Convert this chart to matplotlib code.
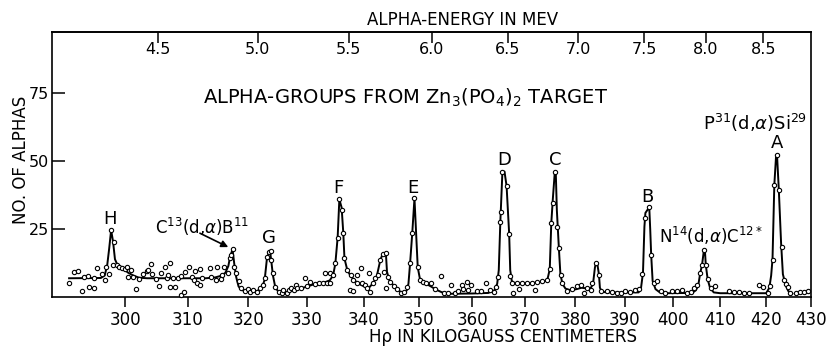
#!/usr/bin/env python3
"""Alpha-groups from a Zn3(PO4)2 target: counts vs H-rho, with alpha energy on top."""

import numpy as np
import matplotlib.pyplot as plt
from matplotlib.ticker import NullLocator

# measured counts (open circles), H-rho in kilogauss cm
h_rho = [
    291.3, 292.0, 292.7, 293.3, 293.6, 294.2, 294.4, 295.1, 295.2, 295.6,
    296.3, 296.8, 297.0, 297.4, 297.8, 298.1, 298.2, 298.7, 299.0, 299.5,
    300.0, 300.3, 300.4, 300.9, 301.3, 301.7, 302.2, 302.9, 303.4, 303.7,
    304.1, 304.2, 304.9, 305.3, 305.7, 306.3, 306.6, 306.8, 307.1, 307.2,
    307.7, 308.0, 308.5, 308.9, 309.0, 309.4, 309.5, 310.2, 310.7, 311.1,
    311.2, 311.6, 312.0, 312.1, 312.4, 313.6, 313.8, 314.7, 314.9, 315.5,
    315.7, 316.0, 316.6, 316.9, 317.2, 317.4, 317.7, 318.0, 318.4, 318.8,
    319.4, 319.9, 320.4, 320.9, 321.5, 322.0, 322.5, 322.9, 323.2, 323.5,
    323.8, 323.9, 324.2, 324.6, 325.2, 325.7, 326.0, 326.6, 327.0, 327.3,
    327.8, 328.1, 328.4, 329.0, 329.7, 330.1, 330.6, 331.5, 332.2, 332.8,
    333.2, 333.5, 334.0, 334.1, 334.6, 335.0, 335.5, 335.7, 336.2, 336.4,
    336.6, 337.1, 337.5, 337.8, 338.1, 338.2, 338.8, 338.9, 339.5, 339.8,
    340.2, 340.6, 341.0, 341.1, 341.6, 342.0, 342.6, 343.0, 343.4, 343.7,
    344.0, 344.1, 344.3, 344.8, 345.4, 346.0, 346.8, 347.2, 347.8, 348.4,
    348.8, 349.2, 349.8, 350.2, 350.8, 351.4, 352.2, 352.9, 354.1, 354.6,
    355.4, 356.0, 356.8, 357.3, 358.0, 358.3, 358.9, 359.1, 359.7, 360.8,
    361.6, 362.6, 363.3, 364.0, 364.4, 364.8, 365.3, 365.4, 365.7, 366.5,
    367.0, 367.2, 367.6, 367.8, 368.6, 368.9, 369.4, 370.4, 371.4, 372.1,
    372.4, 373.4, 374.4, 374.9, 375.2, 375.5, 375.9, 376.3, 376.7, 377.1,
    377.3, 378.3, 379.3, 380.2, 381.1, 381.6, 382.4, 383.2, 383.4, 384.1,
    384.8, 385.1, 386.3, 387.4, 388.3, 389.2, 390.1, 391.0, 392.0, 392.9,
    393.6, 394.1, 395.0, 395.4, 395.9, 396.7, 397.4, 398.3, 399.7, 400.7,
    401.8, 402.8, 403.7, 404.3, 405.0, 405.7, 406.1, 406.6, 406.9, 407.3,
    408.0, 408.9, 411.9, 413.0, 414.1, 415.1, 416.2, 418.5, 419.4, 420.3,
    420.9, 421.4, 421.8, 422.3, 422.8, 423.5, 424.0, 424.3, 424.8, 425.2,
    426.7, 427.6, 428.5, 429.4,
]
counts = [
    5.1, 9.4, 9.8, 2.3, 7.6, 7.8, 3.9, 3.3, 7.0, 10.9,
    8.6, 6.4, 11.0, 8.6, 24.7, 11.9, 20.4, 11.9, 11.0, 10.7,
    10.3, 11.3, 7.4, 10.0, 7.6, 2.9, 6.6, 8.6, 9.8, 10.0,
    12.2, 8.5, 6.6, 4.2, 8.8, 11.0, 7.0, 8.2, 12.7, 3.7,
    7.0, 3.9, 7.0, 0.8, 7.8, 1.8, 9.4, 11.3, 7.6, 6.4,
    9.8, 5.1, 4.5, 10.3, 7.2, 10.9, 7.6, 6.4, 11.3, 6.6,
    8.2, 11.0, 8.8, 14.3, 15.5, 17.6, 11.3, 8.8, 6.1, 3.3,
    2.4, 2.9, 2.1, 2.7, 2.1, 3.3, 4.5, 7.0, 14.7, 16.8,
    17.1, 13.7, 8.8, 3.7, 2.1, 1.5, 2.7, 1.5, 2.7, 3.3,
    2.7, 4.5, 3.3, 3.3, 7.2, 4.2, 5.7, 4.8, 5.1, 5.4,
    9.0, 5.4, 5.4, 8.8, 8.2, 12.5, 21.7, 36.0, 32.1, 23.5,
    14.3, 10.0, 2.7, 8.2, 2.3, 6.4, 5.4, 8.2, 10.7, 5.4,
    4.5, 3.3, 8.8, 2.1, 5.4, 7.0, 8.2, 13.7, 15.8, 9.4,
    16.2, 3.3, 7.6, 5.7, 4.2, 2.9, 1.7, 2.1, 3.9, 12.5,
    23.7, 36.4, 11.0, 6.4, 5.7, 5.1, 5.4, 3.1, 7.8, 1.7,
    1.5, 4.5, 1.7, 2.4, 4.5, 2.9, 5.7, 2.7, 4.5, 2.4,
    2.4, 5.4, 2.7, 2.1, 3.9, 7.6, 27.8, 31.5, 46.2, 40.9,
    23.2, 7.8, 5.4, 1.7, 5.1, 2.9, 5.1, 5.1, 5.1, 2.7,
    5.7, 5.9, 6.2, 10.3, 27.2, 34.6, 46.2, 26.0, 18.0, 8.2,
    5.1, 2.4, 2.9, 4.2, 4.5, 1.7, 3.5, 2.7, 5.4, 12.5,
    8.2, 2.3, 2.4, 2.1, 1.5, 1.7, 2.4, 2.1, 2.7, 2.9,
    8.6, 29.0, 33.1, 15.5, 5.1, 6.1, 2.4, 1.7, 2.3, 2.4,
    2.7, 1.7, 2.1, 3.3, 4.5, 8.8, 11.9, 17.4, 11.9, 6.6,
    3.3, 4.2, 2.4, 2.1, 2.1, 1.7, 1.7, 4.5, 3.7, 1.7,
    4.2, 13.7, 41.3, 52.3, 39.4, 18.6, 6.4, 4.9, 3.9, 1.7,
    1.7, 2.1, 2.1, 2.4,
]

# hand-drawn curve through the groups
curve_h_rho = [
    291.3, 296.2, 296.8, 297.2, 297.5, 297.8, 298.1, 298.4, 298.8, 299.5,
    300.5, 301.3, 302.2, 303.5, 313.0, 314.5, 315.5, 316.2, 316.7, 317.0,
    317.4, 317.7, 318.0, 318.4, 318.9, 319.5, 321.5, 322.3, 322.8, 323.2,
    323.7, 323.9, 324.2, 324.6, 325.2, 326.0, 327.0, 328.0, 329.0, 330.0,
    331.0, 332.0, 333.0, 334.0, 334.6, 335.0, 335.4, 335.7, 336.1, 336.4,
    336.6, 337.1, 337.7, 338.5, 339.3, 340.3, 341.0, 341.6, 342.3, 343.0,
    343.4, 344.0, 344.2, 344.6, 345.2, 345.9, 346.6, 347.3, 347.8, 348.1,
    348.4, 348.8, 349.2, 349.5, 349.8, 350.2, 350.8, 351.5, 352.3, 353.2,
    354.2, 355.0, 356.0, 360.0, 363.0, 364.2, 364.7, 365.0, 365.3, 365.7,
    366.1, 366.5, 367.0, 367.2, 367.5, 368.2, 371.0, 373.4, 374.4, 374.9,
    375.2, 375.5, 375.9, 376.1, 376.3, 376.7, 377.0, 377.4, 378.0, 379.0,
    380.2, 381.2, 382.2, 383.0, 383.5, 383.9, 384.1, 384.4, 384.7, 384.9,
    385.3, 386.5, 392.8, 393.3, 393.7, 394.0, 394.2, 395.0, 395.2, 395.4,
    395.7, 396.3, 397.2, 398.5, 404.0, 404.8, 405.3, 405.7, 406.1, 406.5,
    406.7, 406.9, 407.3, 407.8, 408.6, 410.0, 420.0, 420.7, 421.1, 421.4,
    421.8, 422.2, 422.4, 422.8, 423.3, 423.7, 424.3, 424.9, 425.8,
]
curve_counts = [
    7.0, 7.1, 8.0, 12.0, 18.0, 24.7, 20.5, 14.0, 11.8, 10.8,
    9.0, 8.0, 7.2, 7.0, 7.0, 7.3, 7.9, 9.0, 11.5, 15.0,
    17.6, 12.0, 7.5, 4.0, 2.7, 2.3, 2.3, 3.3, 6.5, 14.7,
    17.1, 13.7, 8.0, 3.7, 1.8, 1.5, 2.2, 2.8, 3.3, 3.9,
    4.6, 5.0, 5.4, 6.2, 8.0, 12.5, 22.0, 36.0, 33.0, 23.5,
    14.3, 10.0, 7.8, 6.0, 4.8, 3.8, 3.6, 5.0, 7.2, 13.7,
    15.8, 16.2, 9.4, 6.4, 4.8, 3.3, 2.1, 1.5, 2.6, 5.0,
    12.5, 23.7, 36.4, 24.0, 11.0, 6.8, 5.6, 4.8, 3.9, 2.8,
    1.9, 1.4, 1.3, 1.4, 1.6, 2.6, 5.0, 10.0, 27.8, 46.2,
    46.2, 40.9, 23.2, 10.0, 6.0, 5.0, 5.1, 5.7, 6.2, 10.3,
    27.2, 36.0, 46.2, 45.0, 32.0, 18.0, 8.5, 5.0, 3.2, 2.6,
    3.0, 3.5, 3.3, 3.3, 4.8, 11.0, 12.5, 12.0, 8.5, 3.5,
    2.0, 1.8, 1.8, 3.5, 9.0, 26.0, 31.0, 33.1, 25.0, 15.5,
    6.0, 3.0, 1.8, 1.5, 1.6, 2.6, 4.5, 8.8, 11.9, 17.4,
    17.4, 11.9, 6.6, 3.5, 1.8, 1.5, 1.5, 3.5, 8.0, 14.0,
    41.3, 52.3, 52.3, 39.4, 20.0, 8.5, 4.5, 2.3, 1.3,
]

x_ticks = [300, 310, 320, 330, 340, 350, 360, 370, 380, 390, 400, 410, 420, 430]
y_ticks = [25, 50, 75]
energy_ticks = [4.5, 5.0, 5.5, 6.0, 6.5, 7.0, 7.5, 8.0, 8.5]
K_ENERGY = 4.833e-5  # MeV per (kG cm)^2


def to_energy(h):
    return K_ENERGY * np.asarray(h, dtype=float) ** 2


def to_hrho(e):
    return np.sqrt(np.clip(np.asarray(e, dtype=float), 1e-9, None) / K_ENERGY)


fig = plt.figure(figsize=(8.3, 3.47), dpi=100)
ax = fig.add_axes([52 / 830, 1 - 297.3 / 347, (811 - 52) / 830, (297.3 - 32) / 347])
ax.set_xscale('log')

ax.plot(curve_h_rho, curve_counts, color='black', lw=1.4, zorder=2)
ax.plot(h_rho, counts, 'o', ms=3.1, mfc='white', mec='black', mew=0.8,
        zorder=3, clip_on=False)

ax.set_xlim(288.7, 430)
ax.set_ylim(0, 97.5)

ax.set_xticks(x_ticks, labels=[str(t) for t in x_ticks])
ax.xaxis.set_minor_locator(NullLocator())
ax.set_yticks(y_ticks, labels=[str(t) for t in y_ticks])
ax.tick_params(axis='x', direction='out', length=7, width=1.1, pad=3, labelsize=12)
ax.tick_params(axis='y', direction='in', length=9, width=1.1, pad=2, labelsize=11.5)
for s in ax.spines.values():
    s.set_linewidth(1.2)

sec = ax.secondary_xaxis('top', functions=(to_energy, to_hrho))
sec.set_xticks(energy_ticks, labels=[f'{e:.1f}' for e in energy_ticks])
sec.xaxis.set_minor_locator(NullLocator())
sec.tick_params(direction='in', length=8, width=1.1, pad=-18, labelsize=11.5)
sec.spines['top'].set_linewidth(1.2)

# axis titles
fig.text(463 / 830, 1 - 20 / 347, 'ALPHA-ENERGY IN MEV', ha='center', va='center', fontsize=12)
fig.text(503 / 830, 1 - 337 / 347, 'Hρ IN KILOGAUSS CENTIMETERS', ha='center', va='center', fontsize=12)
fig.text(21 / 830, 1 - 160 / 347, 'NO. OF ALPHAS', ha='center', va='center', rotation=90, fontsize=12)
fig.text(406 / 830, 1 - 98 / 347, r'ALPHA-GROUPS FROM Zn$_3$(PO$_4$)$_2$ TARGET',
         ha='center', va='center', fontsize=14)

# group labels
for name, x, y in [('H', 297.7, 28.7), ('G', 323.6, 21.7), ('F', 335.6, 40.1),
                   ('E', 349.0, 40.1), ('D', 366.1, 50.5), ('C', 375.9, 50.5),
                   ('B', 394.6, 37.0), ('A', 422.4, 56.6)]:
    ax.text(x, y, name, ha='center', va='center', fontsize=13)

ax.text(312.3, 25.8, r'C$^{13}$(d,$\alpha$)B$^{11}$', ha='center', va='center', fontsize=12)
ax.annotate('', xy=(317.1, 18.0), xytext=(311.6, 24.0),
            arrowprops=dict(arrowstyle='-|>', color='black', lw=1.2, mutation_scale=10))
ax.text(408.0, 22.5, r'N$^{14}$(d,$\alpha$)C$^{12*}$', ha='center', va='center', fontsize=12)
ax.text(417.5, 64.0, r'P$^{31}$(d,$\alpha$)Si$^{29}$', ha='center', va='center', fontsize=13)

fig.savefig('out.png', dpi=100, facecolor='white')
plt.close(fig)
